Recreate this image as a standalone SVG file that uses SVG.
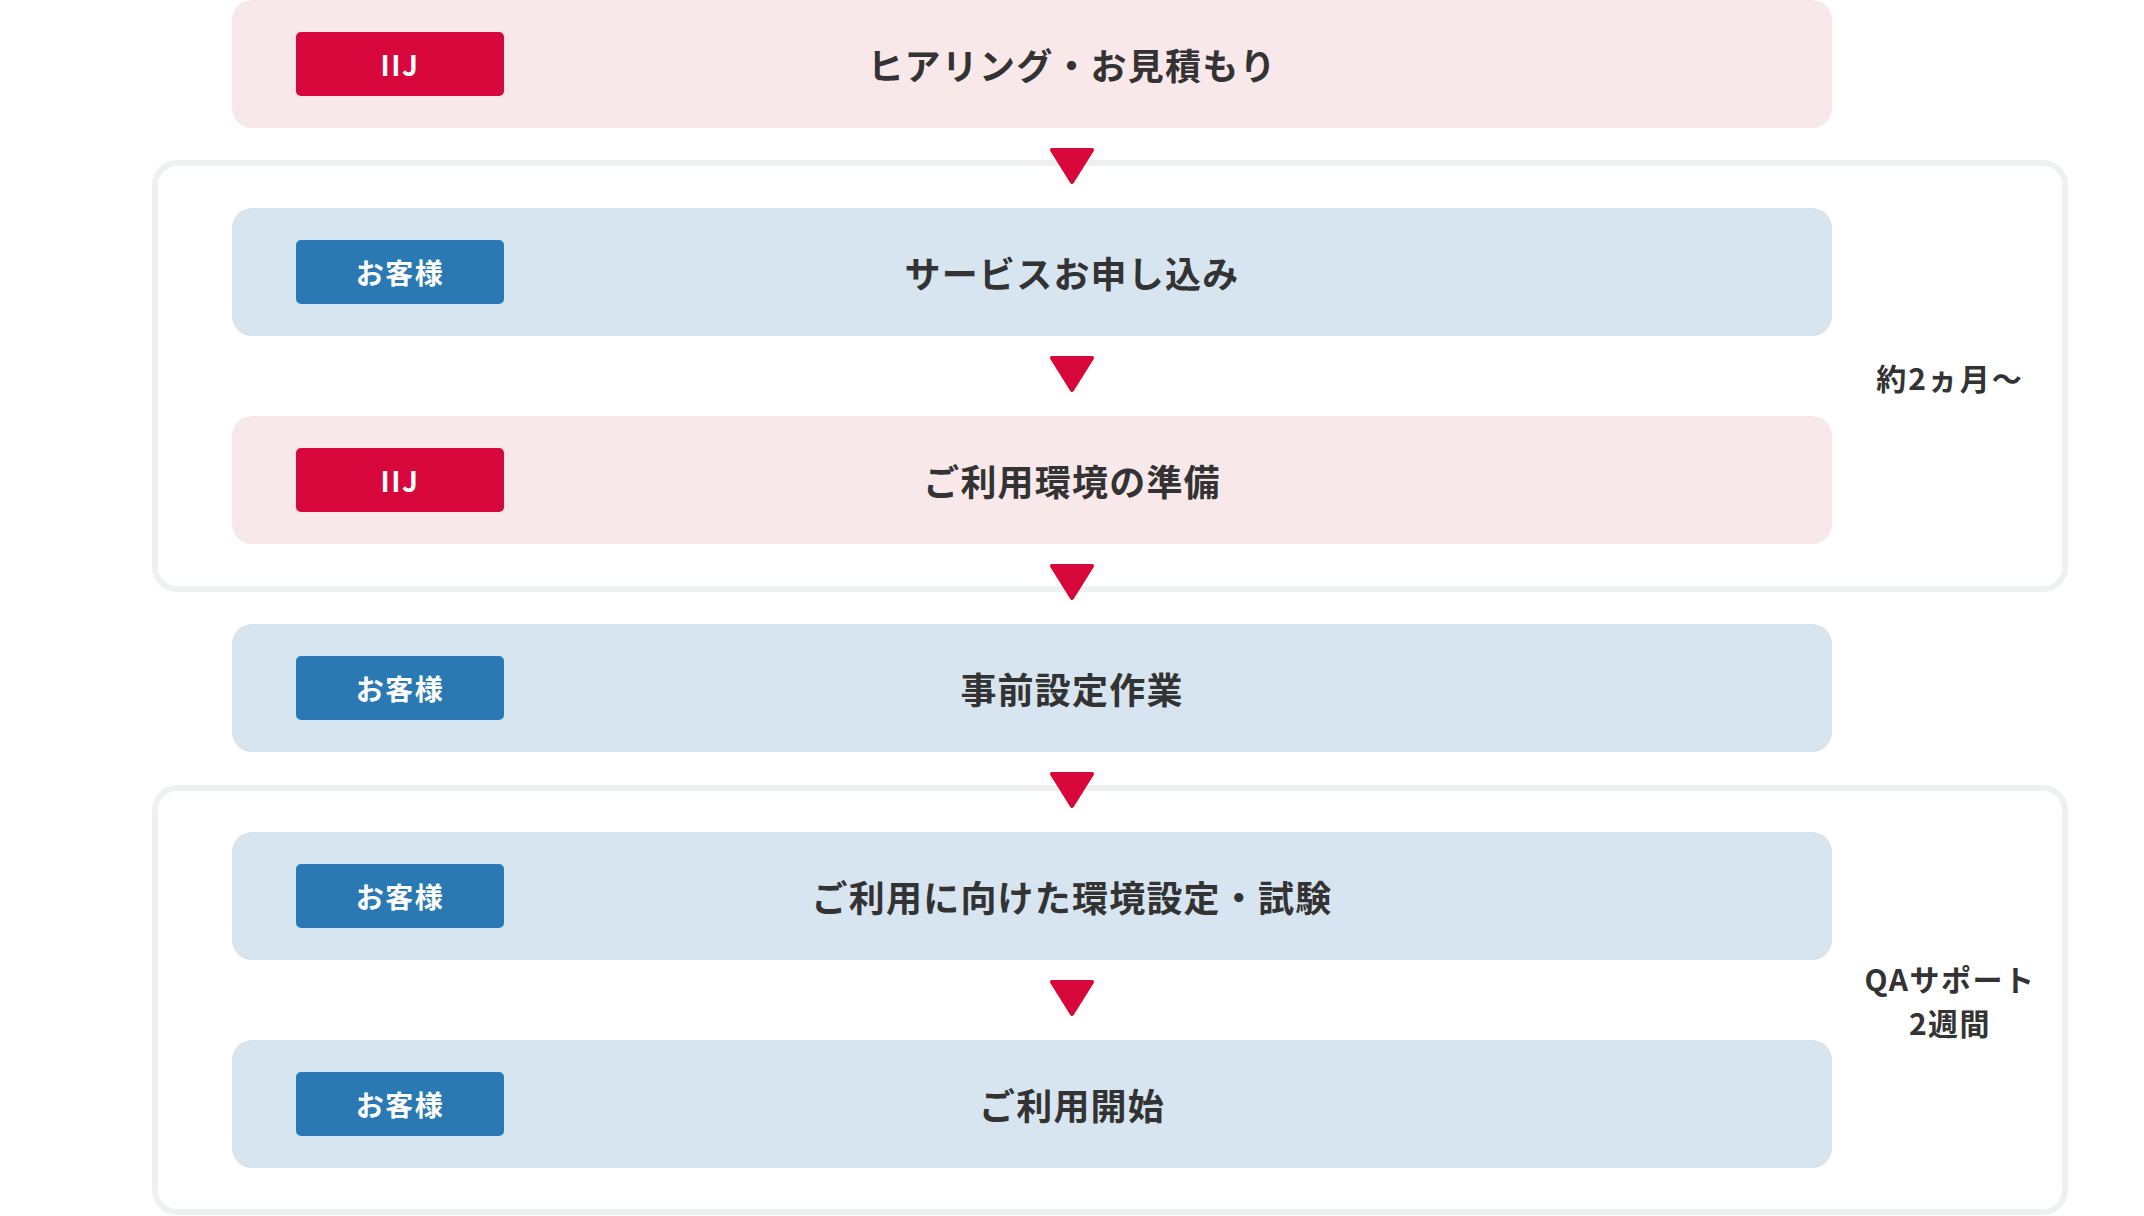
<svg xmlns="http://www.w3.org/2000/svg" width="2144" height="1216" viewBox="0 0 2144 1216">
<style>
  text { font-family: "Noto Sans CJK JP", "Noto Sans", sans-serif; font-weight: 700; }
  .frame { fill: none; stroke: #eff0f2; stroke-width: 6; }
  .boxIIJ { fill: #f9e8ea; }
  .boxCust { fill: #d7e5f0; }
  .badgeIIJ { fill: #d7063b; }
  .badgeCust { fill: #2b79b2; }
  .badgeText { fill: #ffffff; font-size: 28px; letter-spacing: 1.5px; text-anchor: middle; }
  .mainText { fill: #333333; font-size: 36px; letter-spacing: 1.2px; text-anchor: middle; }
  .sideText { fill: #333333; font-size: 30px; letter-spacing: 1.5px; text-anchor: middle; }
  .arrow { fill: #d7063b; stroke: #d7063b; stroke-width: 4; stroke-linejoin: round; }
</style>
<rect width="2144" height="1216" fill="#ffffff"/>

<g id="frames">
  <rect id="frame-2months" class="frame" x="155" y="163" width="1910" height="426" rx="22"/>
  <rect id="frame-qa" class="frame" x="155" y="788" width="1910" height="424" rx="22"/>
</g>

<g id="step1">
  <rect class="boxIIJ" x="232" y="0" width="1600" height="128" rx="20"/>
  <rect class="badgeIIJ" x="296" y="32" width="208" height="64" rx="5"/>
  <text class="badgeText" x="400" y="75.5">IIJ</text>
  <text class="mainText" x="1072" y="79.5">ヒアリング・お見積もり</text>
</g>

<g id="step2">
  <rect class="boxCust" x="232" y="208" width="1600" height="128" rx="20"/>
  <rect class="badgeCust" x="296" y="240" width="208" height="64" rx="5"/>
  <text class="badgeText" x="400" y="283.5">お客様</text>
  <text class="mainText" x="1072" y="287.5">サービスお申し込み</text>
</g>

<g id="step3">
  <rect class="boxIIJ" x="232" y="416" width="1600" height="128" rx="20"/>
  <rect class="badgeIIJ" x="296" y="448" width="208" height="64" rx="5"/>
  <text class="badgeText" x="400" y="491.5">IIJ</text>
  <text class="mainText" x="1072" y="495.5">ご利用環境の準備</text>
</g>

<g id="step4">
  <rect class="boxCust" x="232" y="624" width="1600" height="128" rx="20"/>
  <rect class="badgeCust" x="296" y="656" width="208" height="64" rx="5"/>
  <text class="badgeText" x="400" y="699.5">お客様</text>
  <text class="mainText" x="1072" y="703.5">事前設定作業</text>
</g>

<g id="step5">
  <rect class="boxCust" x="232" y="832" width="1600" height="128" rx="20"/>
  <rect class="badgeCust" x="296" y="864" width="208" height="64" rx="5"/>
  <text class="badgeText" x="400" y="907.5">お客様</text>
  <text class="mainText" x="1072" y="911.5">ご利用に向けた環境設定・試験</text>
</g>

<g id="step6">
  <rect class="boxCust" x="232" y="1040" width="1600" height="128" rx="20"/>
  <rect class="badgeCust" x="296" y="1072" width="208" height="64" rx="5"/>
  <text class="badgeText" x="400" y="1115.5">お客様</text>
  <text class="mainText" x="1072" y="1119.5">ご利用開始</text>
</g>

<g id="label-2months">
  <text class="sideText" x="1950" y="390" style="letter-spacing:2px">約2ヵ月〜</text>
</g>

<g id="label-qa">
  <text class="sideText" x="1950" y="991">QAサポート</text>
  <text class="sideText" x="1950" y="1035">2週間</text>
</g>

<g id="connectors">
  <polygon class="arrow" points="1052,150 1092,150 1072,182"/>
  <polygon class="arrow" points="1052,358 1092,358 1072,390"/>
  <polygon class="arrow" points="1052,566 1092,566 1072,598"/>
  <polygon class="arrow" points="1052,774 1092,774 1072,806"/>
  <polygon class="arrow" points="1052,982 1092,982 1072,1014"/>
</g>
</svg>
